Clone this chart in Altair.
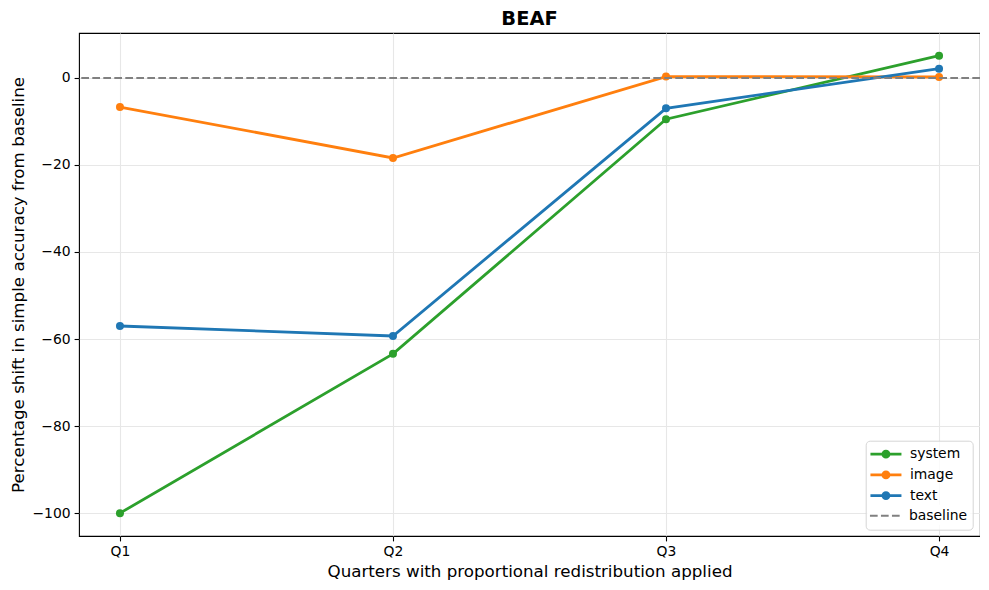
import altair as alt
import pandas as pd

quarters = ["Q1", "Q2", "Q3", "Q4"]
quarter_pos = [0, 1, 2, 3]
system = [-100.0, -63.4, -9.5, 5.1]
image = [-6.7, -18.4, 0.3, 0.2]
text = [-57.0, -59.3, -7.0, 2.1]
series_names = ["system", "image", "text"]
series_colors = ["#2ca02c", "#ff7f0e", "#1f77b4"]
baseline_name = ["baseline"]
baseline_value = [0.0]
y_ticks = [-100, -80, -60, -40, -20, 0]

rows = []
for name, vals in zip(series_names, [system, image, text]):
    for q, p, v in zip(quarters, quarter_pos, vals):
        rows.append({"series": name, "quarter": q, "pos": p, "value": v})
df = pd.DataFrame(rows)
base_df = pd.DataFrame({"series": baseline_name, "value": baseline_value})

domain = series_names + baseline_name
crange = series_colors + ["#808080"]

dot_path = "M-2,0H2M0.39,0A0.39,0.39 0 1,1 -0.39,0A0.39,0.39 0 1,1 0.39,0Z"
line_path = "M-2,0H2"

SYM = 240.25  # sqrt = 15.5
LX, LY, PAD, ROWPAD = 786.7, 407.7, 4, 1.7
ROW = 20.7

legend_main = alt.Legend(
    title=None,
    orient="none",
    legendX=LX,
    legendY=LY,
    padding=PAD,
    rowPadding=ROWPAD,
    symbolType=dot_path,
    symbolStrokeWidth=2.8,
    fillColor="rgba(255,255,255,0.8)",
    strokeColor="#d6d6d6",
    cornerRadius=4,
    zindex=1,
)
legend_base = alt.Legend(
    title=None,
    orient="none",
    legendX=LX + PAD - 2,
    legendY=LY + PAD + 3 * ROW - 2,
    padding=2,
    symbolType=line_path,
    symbolStrokeColor="#808080",
    symbolStrokeWidth=2,
    fillColor="#ffffff",
    zindex=2,
)

color_scale = alt.Scale(domain=domain, range=crange)
dash_scale = alt.Scale(domain=baseline_name, range=[[7.7, 3.3]])

x_enc = alt.X(
    "pos:Q",
    scale=alt.Scale(domain=[-0.15, 3.15], nice=False, zero=False),
    axis=alt.Axis(
        values=quarter_pos,
        labelExpr="['Q1','Q2','Q3','Q4'][datum.value]",
        title="Quarters with proportional redistribution applied",
    ),
)
y_enc = alt.Y(
    "value:Q",
    scale=alt.Scale(domain=[-105.25, 10.31], nice=False, zero=False),
    axis=alt.Axis(values=y_ticks, title="Percentage shift in simple accuracy from baseline"),
)

layers = []
for name in series_names:
    b = alt.Chart(df).transform_filter(alt.datum.series == name)
    layers.append(
        b.mark_line(strokeWidth=2.8).encode(
            x=x_enc, y=y_enc, color=alt.Color("series:N", scale=color_scale, legend=legend_main)
        )
    )
    layers.append(
        b.mark_circle(size=64, opacity=1).encode(
            x=x_enc, y=y_enc, color=alt.Color("series:N", scale=color_scale, legend=legend_main)
        )
    )

rule = alt.Chart(base_df).mark_rule(strokeWidth=2).encode(
    y=alt.Y("value:Q"),
    color=alt.Color("series:N", scale=color_scale, legend=legend_main),
    strokeDash=alt.StrokeDash("series:N", scale=dash_scale, legend=legend_base),
)
layers.append(rule)

chart = (
    alt.layer(*layers)
    .properties(
        width=901,
        height=503,
        title=alt.TitleParams(
            "BEAF", fontSize=19.4, fontWeight="bold", font="DejaVu Sans",
            frame="group", anchor="middle", offset=4, color="#000000",
        ),
        autosize=alt.AutoSizeParams(type="none"),
        padding={"left": 71, "top": 25, "right": 0, "bottom": 45},
    )
    .configure_view(stroke="#000000", strokeWidth=1.1)
    .configure_legend(
        symbolSize=SYM,
        symbolOffset=6.75,
        labelFontSize=13.9,
        labelFont="DejaVu Sans",
        labelColor="#000000",
        labelOffset=14.5,
    )
    .configure_axis(
        domain=False,
        grid=True,
        gridColor="#e7e7e7",
        gridWidth=1.1,
        tickColor="#000000",
        tickSize=4.9,
        tickWidth=1.1,
        labelFont="DejaVu Sans",
        labelFontSize=13.9,
        labelColor="#000000",
        labelPadding=4,
        titleFont="DejaVu Sans",
        titleFontSize=16.7,
        titleFontWeight="normal",
        titleColor="#000000",
    )
    .configure_axisY(titlePadding=4)
    .configure_axisX(titlePadding=5)
)

chart.save("out.html", embed_options={"renderer": "svg", "actions": False})
